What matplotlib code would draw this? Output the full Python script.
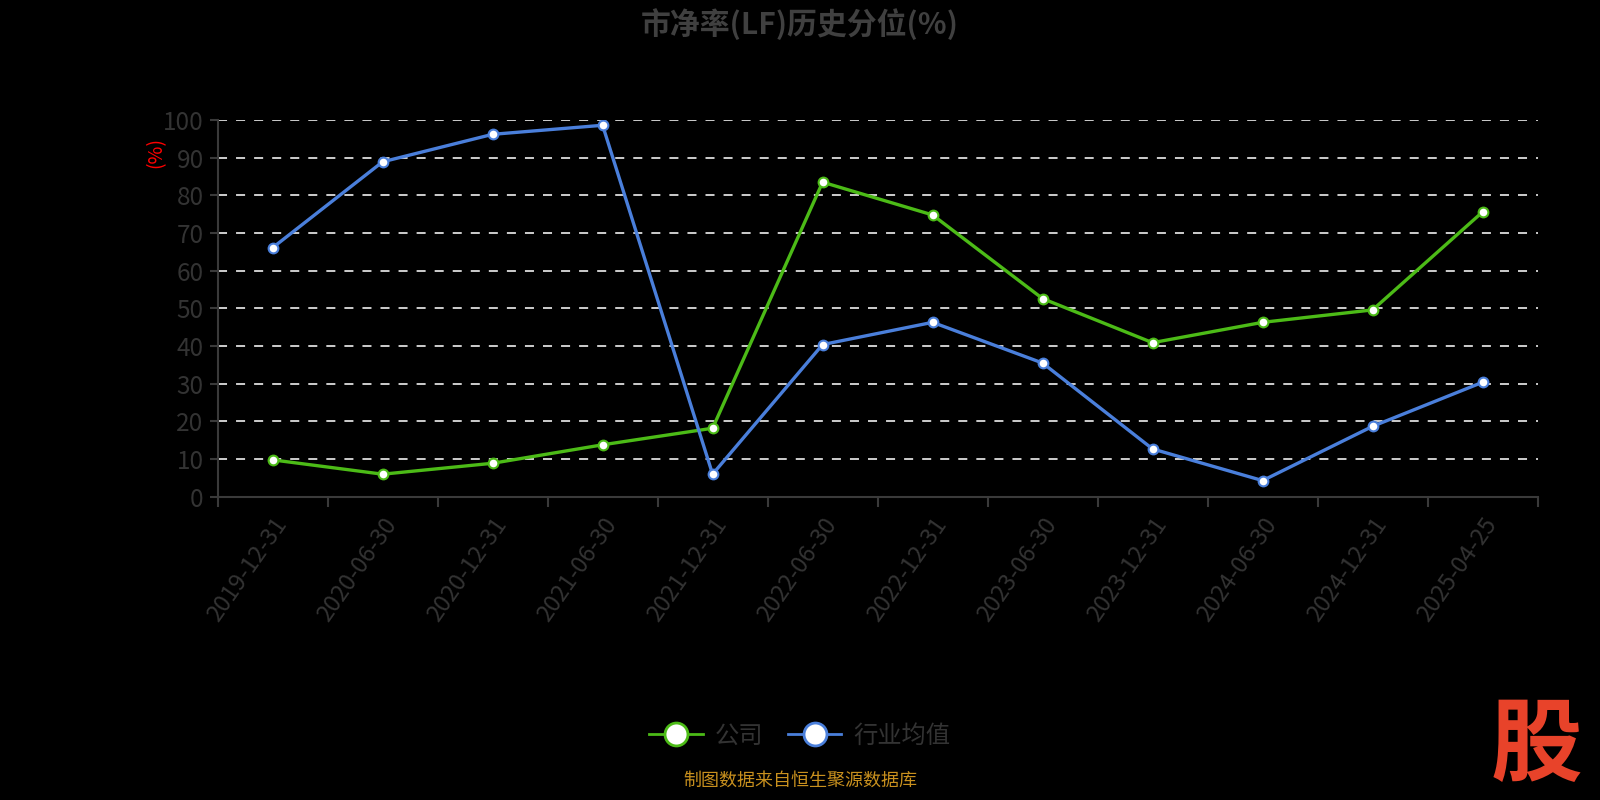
import matplotlib.pyplot as plt
from matplotlib.lines import Line2D

plt.rcParams['font.family'] = ['Noto Sans CJK SC', 'DejaVu Sans']

# dados
dates = ['2019-12-31', '2020-06-30', '2020-12-31', '2021-06-30', '2021-12-31', '2022-06-30',
         '2022-12-31', '2023-06-30', '2023-12-31', '2024-06-30', '2024-12-31', '2025-04-25']
company = [9.8, 6.0, 8.9, 13.8, 18.2, 83.5, 74.8, 52.6, 40.9, 46.3, 49.6, 75.6]
industry = [66.1, 88.9, 96.2, 98.6, 6.0, 40.4, 46.3, 35.5, 12.7, 4.3, 18.7, 30.4]
yticks = [0, 10, 20, 30, 40, 50, 60, 70, 80, 90, 100]

green = '#4cbb17'
blue = '#4a7fdb'
axis_gray = '#3a3a3a'
text_gray = '#333333'

fig = plt.figure(figsize=(16, 8), dpi=100, facecolor='black')
ax = fig.add_axes([0.136, 0.379, 0.825, 0.471])
ax.set_facecolor('black')

x = list(range(len(dates)))
ax.plot(x, company, color=green, lw=2.4, marker='o', ms=7, mfc='white', mec=green, mew=1.5, zorder=3)
ax.plot(x, industry, color=blue, lw=2.4, marker='o', ms=7, mfc='white', mec=blue, mew=1.5, zorder=3)

ax.set_xlim(-0.5, len(dates) - 0.5)
ax.set_ylim(0, 100)

# grade
for v in yticks[1:]:
    ax.axhline(v, color='#dddddd', lw=1.3, ls=(0, (5, 5)), zorder=1)

ax.set_yticks(yticks)
ax.set_yticklabels([str(v) for v in yticks], color=text_gray, fontsize=17.5)
ax.set_xticks(x)
ax.set_xticklabels(dates, rotation=55, ha='right', va='top', rotation_mode='anchor',
                   color=text_gray, fontsize=17)
ax.tick_params(axis='x', length=0, pad=12)
ax.tick_params(axis='y', length=6, width=1.5, color=axis_gray, pad=4)
# ticks nas bordas das categorias
ax.set_xticks([i - 0.5 for i in range(len(dates) + 1)], minor=True)
ax.tick_params(axis='x', which='minor', length=7, width=1.5, color=axis_gray)

for s in ['top', 'right']:
    ax.spines[s].set_visible(False)
for s in ['left', 'bottom']:
    ax.spines[s].set_color(axis_gray)
    ax.spines[s].set_linewidth(1.5)

fig.text(0.0975, 0.81, '(%)', color='red', fontsize=14, rotation=90, ha='center', va='center')

fig.text(0.5, 0.97, '市净率(LF)历史分位(%)', color='#404040', fontsize=21.5, fontweight='bold',
         ha='center', va='center')

handles = [Line2D([], [], color=green, lw=2, marker='o', ms=16.5, mfc='white', mec=green, mew=2),
           Line2D([], [], color=blue, lw=2, marker='o', ms=16.5, mfc='white', mec=blue, mew=2)]
fig.legend(handles, ['公司', '行业均值'], loc='center', bbox_to_anchor=(0.5, 0.08), ncol=2,
           frameon=False, fontsize=17.5, labelcolor=text_gray, handlelength=2.2,
           columnspacing=1.0, handletextpad=0.5)

fig.text(0.5, 0.013, '制图数据来自恒生聚源数据库', color='#c8901e', fontsize=13, ha='center', va='bottom')
fig.text(0.96, 0.066, '股', color='#e8432a', fontsize=66, fontweight='bold', style='italic',
         ha='center', va='center')

plt.savefig('out.png', facecolor='black')
